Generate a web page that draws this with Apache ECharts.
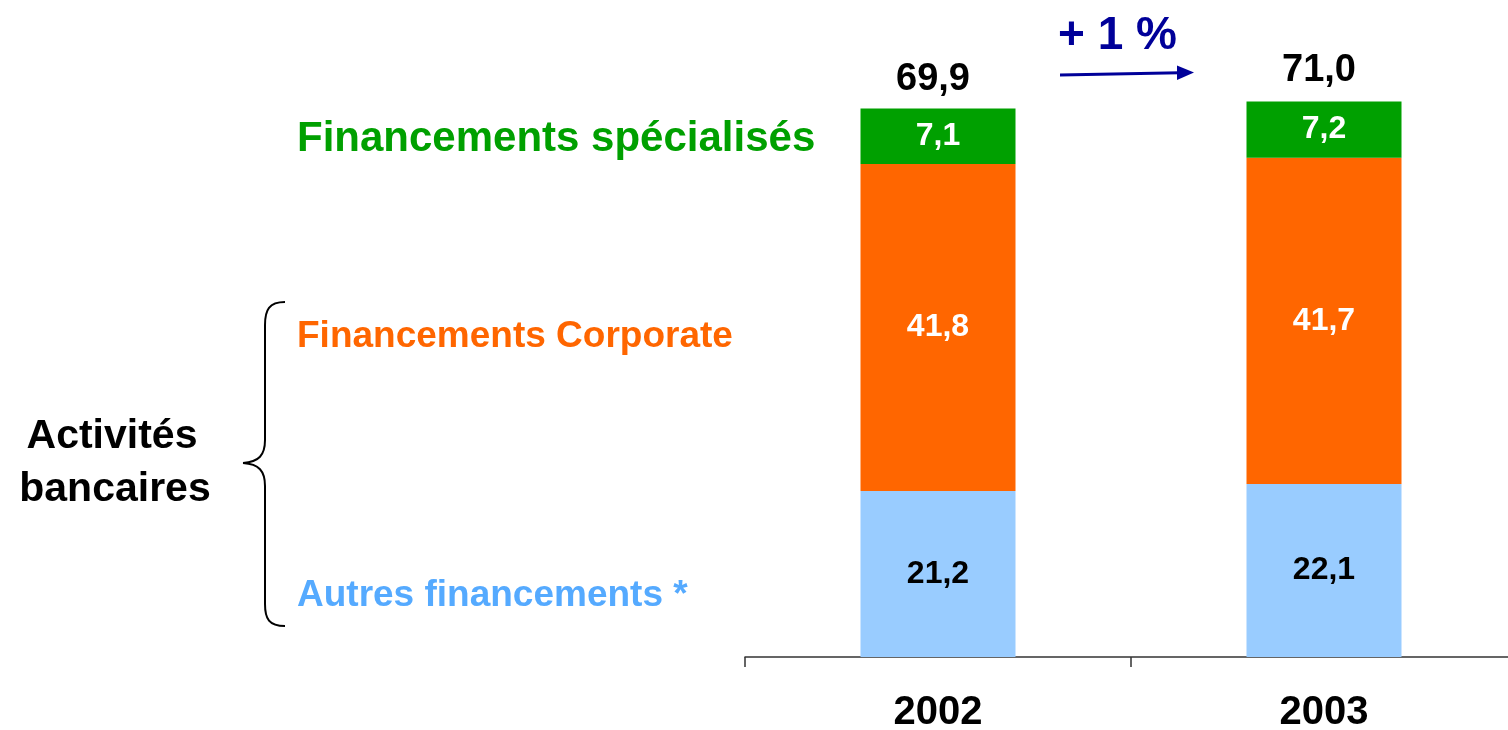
<!DOCTYPE html>
<html>
<head>
<meta charset="utf-8">
<style>
html,body{margin:0;padding:0;background:#fff;}
#chart{width:1508px;height:730px;}
</style>
<script src="https://cdn.jsdelivr.net/npm/echarts@6/dist/echarts.min.js"></script>
</head>
<body>
<div id="chart"></div>
<script>
const categories = ['2002', '2003'];
const autresFinancements = [21.2, 22.1];
const financementsCorporate = [41.8, 41.7];
const financementsSpecialises = [7.1, 7.2];
const totals = [69.9, 71.0];
const growthLabel = '+ 1 %';

const FONT = '"Liberation Sans", Arial, sans-serif';
const fmt = v => String(v.toFixed(1)).replace('.', ',');

const chart = echarts.init(document.getElementById('chart'), null, {renderer: 'canvas'});

function stackSeries(name, data, color, labelColor) {
  return {
    name: name,
    type: 'bar',
    stack: 'total',
    data: data,
    barWidth: 155,
    barGap: '-100%',
    itemStyle: {color: color},
    label: {
      show: true,
      position: 'inside',
      color: labelColor,
      fontFamily: FONT,
      fontWeight: 'bold',
      fontSize: 32,
      formatter: p => fmt(p.value)
    },
    silent: true
  };
}

const braceStyle = {stroke: '#000000', lineWidth: 2, fill: null};
function bez(x1, y1, cx1, cy1, cx2, cy2, x2, y2) {
  return {type: 'bezierCurve', shape: {x1: x1, y1: y1, cpx1: cx1, cpy1: cy1, cpx2: cx2, cpy2: cy2, x2: x2, y2: y2}, style: braceStyle, silent: true, z: 10};
}
function seg(x1, y1, x2, y2, style) {
  return {type: 'line', shape: {x1: x1, y1: y1, x2: x2, y2: y2}, style: style || braceStyle, silent: true, z: 10};
}
function txt(x, y, text, color, size, align) {
  return {type: 'text', x: x, y: y, style: {text: text, fill: color, font: 'bold ' + size + 'px ' + FONT, textAlign: align || 'left', textVerticalAlign: 'middle'}, silent: true, z: 10};
}

const option = {
  animation: false,
  backgroundColor: '#ffffff',
  grid: {left: 745, width: 772, top: 31, bottom: 73, containLabel: false, outerBoundsMode: 'none'},
  xAxis: {
    type: 'category',
    data: categories,
    axisLine: {show: true, lineStyle: {color: '#333333', width: 1.5}},
    axisTick: {show: true, length: 10, inside: false, alignWithLabel: false, lineStyle: {color: '#333333', width: 1.5}},
    axisLabel: {
      color: '#000000',
      fontFamily: FONT,
      fontWeight: 'bold',
      fontSize: 40,
      margin: 36
    }
  },
  yAxis: {
    type: 'value',
    min: 0,
    max: 80,
    show: false,
    splitLine: {show: false}
  },
  series: [
    stackSeries('Autres financements *', autresFinancements, '#99CCFF', '#000000'),
    stackSeries('Financements Corporate', financementsCorporate, '#FF6600', '#ffffff'),
    stackSeries('Financements spécialisés', financementsSpecialises, '#00A000', '#ffffff'),
    {
      name: 'Total',
      type: 'bar',
      data: totals,
      barWidth: 155,
      barGap: '-100%',
      z: 0,
      silent: true,
      itemStyle: {color: 'rgba(0,0,0,0)'},
      label: {
        show: true,
        position: 'top',
        distance: 12,
        offset: [-5, 0],
        color: '#000000',
        fontFamily: FONT,
        fontWeight: 'bold',
        fontSize: 38,
        formatter: p => fmt(p.value)
      }
    }
  ],
  graphic: [
    txt(297, 139, 'Financements spécialisés', '#00A000', 42),
    txt(297, 337, 'Financements Corporate', '#FF6600', 37),
    txt(297, 596, 'Autres financements *', '#55AAFF', 37),
    txt(112, 437, 'Activités', '#000000', 41, 'center'),
    txt(115, 490, 'bancaires', '#000000', 41, 'center'),
    bez(285, 302, 269, 302, 265, 310, 265, 325),
    seg(265, 325, 265, 440),
    bez(265, 440, 265, 455, 259, 462, 243, 463),
    bez(243, 463, 259, 464, 265, 471, 265, 486),
    seg(265, 486, 265, 604),
    bez(265, 604, 265, 619, 269, 626, 285, 626),
    txt(1058, 36, growthLabel, '#000099', 46),
    seg(1060, 75, 1180, 72.7, {stroke: '#000099', lineWidth: 3}),
    {type: 'polygon', shape: {points: [[1177, 65.5], [1194, 72.5], [1177, 80]]}, style: {fill: '#000099'}, silent: true, z: 10}
  ]
};
chart.setOption(option);
</script>
</body>
</html>
